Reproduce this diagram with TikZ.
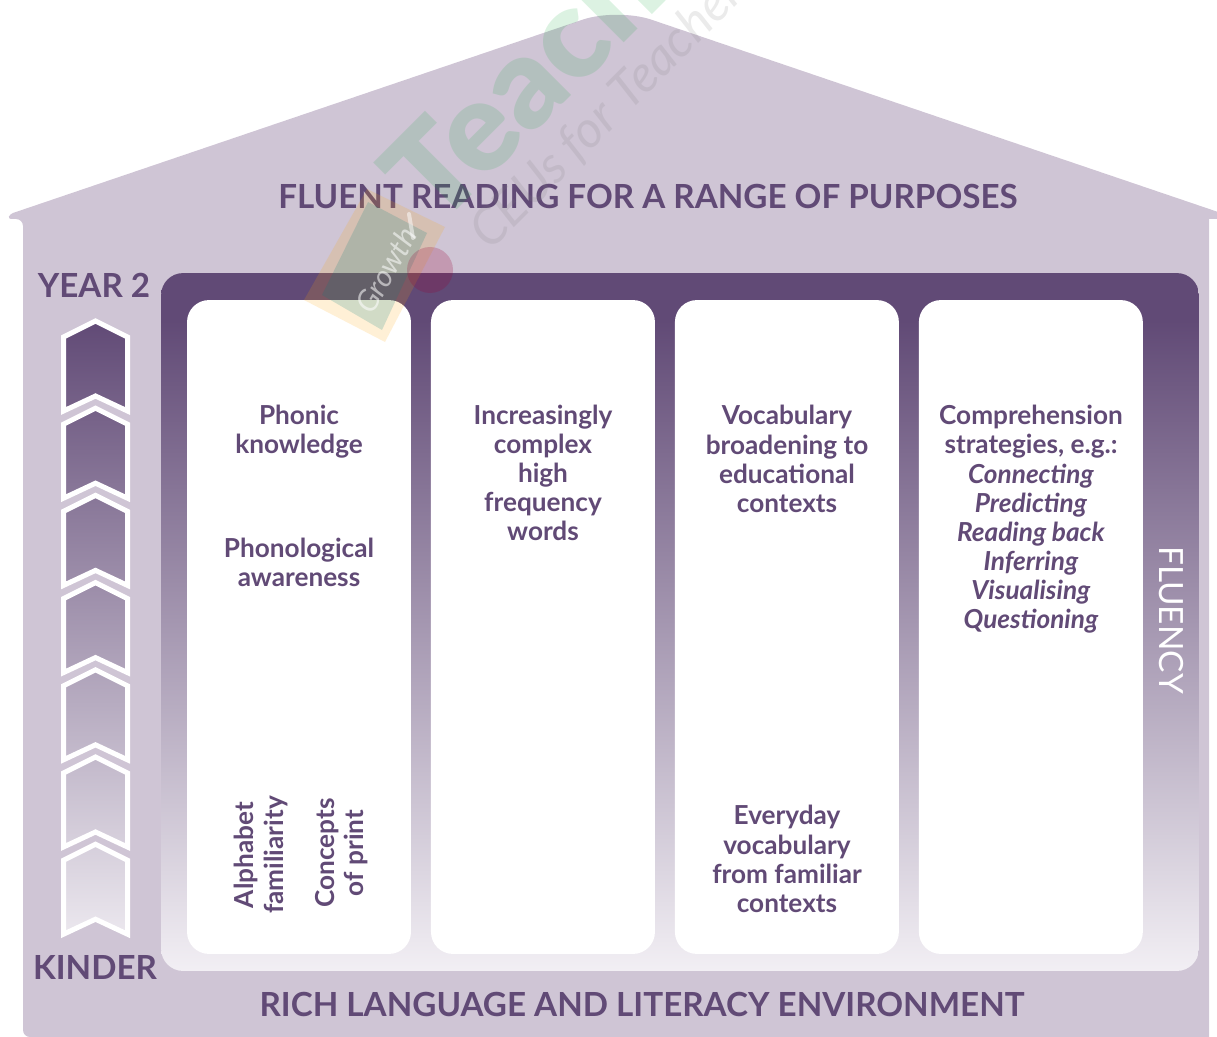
\documentclass[tikz,border=0pt]{standalone}
\usepackage{fontspec}
\setmainfont{Lato}
\newfontfamily\heavyfont{Lato Black}
\usepackage{tikz}

\definecolor{plum}{HTML}{614A76}
\definecolor{lilac}{HTML}{CFC5D5}
\definecolor{fadeend}{HTML}{F2EFF4}
\pgfdeclareverticalshading{panelfade}{100bp}{color(0bp)=(fadeend); color(25bp)=(fadeend); color(71.6bp)=(plum); color(100bp)=(plum)}

\begin{document}
\begin{tikzpicture}[x=0.02cm, y=-0.02cm, node distance=4.88cm]
  \tikzstyle{bigtext} = [text=plum, inner sep=0pt, font=\fontsize{18.9}{21}\selectfont\bfseries]
  \tikzstyle{pillar} = [fill=white, rounded corners=0.44cm, minimum width=4.48cm, minimum height=13.08cm, inner sep=0pt]
  \tikzstyle{pillartext} = [text=plum, inner sep=0pt, align=center, font=\fontsize{14.9}{16.6}\selectfont\bfseries]
  \tikzstyle{chevron} = [draw=white, line width=0.1cm, miter limit=10]

  \useasboundingbox (0,0) rectangle (1217,1037);
  \clip (0,0) rectangle (1217,1037);

  % Define house and panel
  \fill[lilac] (60,1037) [rounded corners=0.14cm] -- (23,1037) -- (23,219) [rounded corners=0.06cm] -- (8,219) -- (10,214)
    [rounded corners=0.72cm] -- (617,8) [rounded corners=0.06cm] -- (1224,214) -- (1224,219) [sharp corners] -- (1209,219) -- (1209,1037) -- cycle;
  \node[shading=panelfade, rounded corners=0.44cm, minimum width=20.76cm, minimum height=13.96cm, inner sep=0pt] (panel) at (680,622) {};

  % Define pillars
  \node[pillar] (phonics) at (299,627) {};
  \node[pillar, right of=phonics] (words) {};
  \node[pillar, right of=words] (vocab) {};
  \node[pillar, right of=vocab] (comp) {};

  % Chevrons, Kinder at the bottom
  \foreach \n in {0,...,6} {
    \pgfmathsetmacro{\toppct}{100-13.4*\n}
    \pgfmathsetmacro{\botpct}{\toppct-15}
    \draw[chevron, shift={(0,87.2*\n)}, top color=plum!\toppct!fadeend, bottom color=plum!\botpct!fadeend]
      (95.5,321) -- (127.5,337) -- (127.5,411) -- (95.5,396) -- (63.5,411) -- (63.5,337) -- cycle;
  }

  % Labels
  \node[bigtext] (title) at (648,196) {FLUENT READING FOR A RANGE OF PURPOSES};
  \node[bigtext] (base) at (642,1004) {RICH LANGUAGE AND LITERACY ENVIRONMENT};
  \node[bigtext] (year) at (94,285) {YEAR 2};
  \node[bigtext] (kinder) at (95,967) {KINDER};
  \node[bigtext, text=white, rotate=-90, font=\fontsize{19}{21}\selectfont] (fluency) at (1171,620) {FLUENCY};

  \node[pillartext] (phonic) at (299,431.5) {Phonic\\knowledge};
  \node[pillartext] (phonological) at (299,562) {Phonological\\awareness};
  \node[pillartext, rotate=90] (alphabet) at (261,855) {Alphabet\\familiarity};
  \node[pillartext, rotate=90] (concepts) at (342,853) {Concepts\\of print};
  \node[pillartext] (frequency) at (543,473) {Increasingly\\complex\\high\\frequency\\words};
  \node[pillartext] (broad) at (787,459) {Vocabulary\\broadening to\\educational\\contexts};
  \node[pillartext] (everyday) at (787,859) {Everyday\\vocabulary\\from familiar\\contexts};
  \node[pillartext] (strategies) at (1031,519.5) {Comprehension\\strategies, e.g.:\\\textit{Connecting}\\\textit{Predicting}\\\textit{Reading back}\\\textit{Inferring}\\\textit{Visualising}\\\textit{Questioning}};

  % Watermark over the top
  \fill[orange!70!yellow, opacity=0.16] (304,300) -- (367,189) -- (445,227) -- (385,342) -- cycle;
  \fill[teal, opacity=0.18] (322,295) -- (368,202) -- (427,233) -- (382,330) -- cycle;
  \fill[purple!80!black, opacity=0.22] (430,270) circle (23);
  \draw[white, opacity=0.5, line width=0.08cm, line cap=round] (409,214) -- (413,238);
  \node[white, opacity=0.55, rotate=60, inner sep=0pt, font=\fontsize{17}{18}\selectfont\itshape] (growth) at (386,270) {Growth};
  \node[text={rgb,255:red,20;green,170;blue,60}, text opacity=0.15, rotate=45, anchor=base west, inner sep=0pt, font=\fontsize{72}{74}\selectfont\heavyfont] (teach) at (437,230) {Teach};
  \node[text=gray, text opacity=0.16, rotate=45, anchor=base west, inner sep=0pt, font=\fontsize{29}{32}\selectfont\itshape] (ceus) at (490,252) {CEUs for Teachers};
\end{tikzpicture}
\end{document}
